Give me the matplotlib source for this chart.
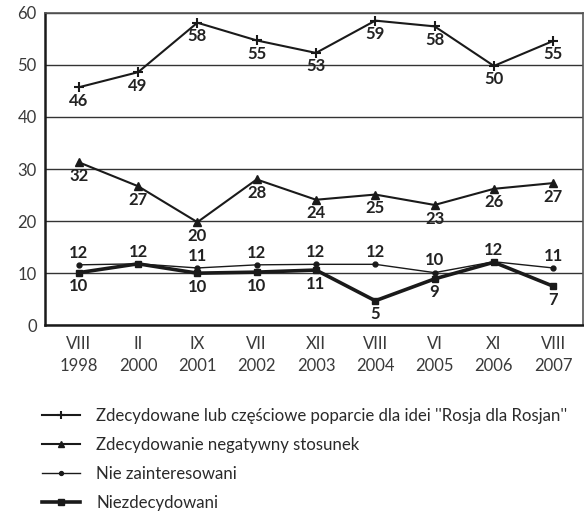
import numpy as np
import matplotlib.pyplot as plt

plt.rcParams['font.family'] = ['Lato', 'DejaVu Sans']

periods = ["VIII\n1998", "II\n2000", "IX\n2001", "VII\n2002", "XII\n2003",
           "VIII\n2004", "VI\n2005", "XI\n2006", "VIII\n2007"]

poparcie = [45.7, 48.6, 58.1, 54.7, 52.3, 58.5, 57.4, 49.8, 54.6]
poparcie_lbl = [46, 49, 58, 55, 53, 59, 58, 50, 55]

negatywny = [31.3, 26.7, 19.8, 28.0, 24.1, 25.1, 23.1, 26.2, 27.3]
negatywny_lbl = [32, 27, 20, 28, 24, 25, 23, 26, 27]

niezaint = [11.6, 11.8, 11.0, 11.6, 11.7, 11.7, 10.1, 12.2, 11.0]
niezaint_lbl = [12, 12, 11, 12, 12, 12, 10, 12, 11]

niezdecyd = [10.1, 11.8, 10.0, 10.2, 10.6, 4.7, 8.9, 12.1, 7.5]
niezdecyd_lbl = [10, None, 10, 10, 11, 5, 9, None, 7]

names = ["Zdecydowane lub częściowe poparcie dla idei ''Rosja dla Rosjan''",
         'Zdecydowanie negatywny stosunek',
         'Nie zainteresowani',
         'Niezdecydowani']

fig = plt.figure(figsize=(5.84, 5.13), dpi=100)
ax = fig.add_axes([0.077, 0.366, 0.921, 0.609])
x = np.arange(len(periods))

ax.plot(x, poparcie, color='#1a1a1a', lw=1.5, marker='+', ms=7, mew=1.5, label=names[0], zorder=3)
ax.plot(x, negatywny, color='#1a1a1a', lw=1.5, marker='^', ms=6, label=names[1], zorder=3)
ax.plot(x, niezaint, color='#1a1a1a', lw=1.0, marker='o', ms=3.5, label=names[2], zorder=3)
ax.plot(x, niezdecyd, color='#1a1a1a', lw=2.6, marker='s', ms=5, label=names[3], zorder=4)

lbl_kw = dict(ha='center', fontsize=12, fontweight='bold', color='#222222')
for i in range(len(x)):
    ax.annotate(str(poparcie_lbl[i]), (x[i], poparcie[i]), xytext=(0, -4), textcoords='offset points', va='top', **lbl_kw)
    ax.annotate(str(negatywny_lbl[i]), (x[i], negatywny[i]), xytext=(0, -4), textcoords='offset points', va='top', **lbl_kw)
    ax.annotate(str(niezaint_lbl[i]), (x[i], niezaint[i]), xytext=(0, 3), textcoords='offset points', va='bottom', **lbl_kw)
    if niezdecyd_lbl[i] is not None:
        ax.annotate(str(niezdecyd_lbl[i]), (x[i], niezdecyd[i]), xytext=(0, -4), textcoords='offset points', va='top', **lbl_kw)

ax.set_ylim(0, 60)
ax.set_xlim(-0.57, 8.5)
ax.set_yticks(range(0, 61, 10))
ax.set_xticks(x)
ax.set_xticklabels(periods, fontsize=12, color='#3a3a3a', linespacing=1.45)
ax.tick_params(axis='y', labelsize=12, labelcolor='#3a3a3a', length=0, pad=6)
ax.tick_params(axis='x', length=0, pad=8)
ax.yaxis.grid(True, color='#333333', lw=1.0)
ax.set_axisbelow(True)
for s in ['left', 'bottom']:
    ax.spines[s].set_linewidth(1.8)
    ax.spines[s].set_color('#1a1a1a')
for s in ['top', 'right']:
    ax.spines[s].set_linewidth(1.2)
    ax.spines[s].set_color('#555555')

leg = fig.legend(loc='upper left', bbox_to_anchor=(0.06, 0.218), frameon=False,
                 prop={'size': 12.1}, markerscale=0.8,
                 handlelength=2.25, handletextpad=1.0, labelspacing=0.78, borderaxespad=0,
                 labelcolor='#2a2a2a')

fig.savefig('out.png', dpi=100)
